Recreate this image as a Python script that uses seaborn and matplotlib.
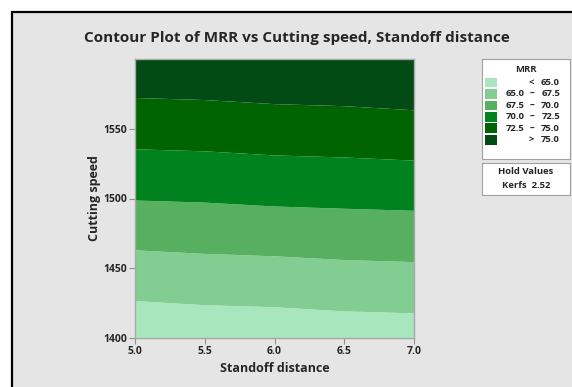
import numpy as np
import pandas as pd
import seaborn as sns
import matplotlib
matplotlib.use("Agg")
import matplotlib.pyplot as plt
from matplotlib.patches import Rectangle

# ---- data ----
standoff = [5.0, 5.5, 6.0, 6.5, 7.0]
speed = [1400, 1450, 1500, 1550, 1600]
mrr_1400 = [63.2, 63.4, 63.5, 63.7, 63.8]
mrr_1450 = [66.6, 66.8, 66.9, 67.1, 67.2]
mrr_1500 = [70.1, 70.2, 70.4, 70.5, 70.6]
mrr_1550 = [73.5, 73.6, 73.8, 73.9, 74.1]
mrr_1600 = [76.9, 77.0, 77.2, 77.3, 77.5]
levels = [55.0, 65.0, 67.5, 70.0, 72.5, 75.0, 85.0]
legend_low = ["<", "65.0", "67.5", "70.0", "72.5", ">"]
legend_high = ["65.0", "67.5", "70.0", "72.5", "75.0", "75.0"]
band_colors = ["#a8e6bd", "#82cd91", "#56b05f", "#00821f", "#006400", "#034b14"]
x_ticks = [5.0, 5.5, 6.0, 6.5, 7.0]
y_ticks = [1400, 1450, 1500, 1550]
hold_name = "Kerfs"
hold_value = "2.52"

rows = []
for sp, vals in zip(speed, [mrr_1400, mrr_1450, mrr_1500, mrr_1550, mrr_1600]):
    for sd, v in zip(standoff, vals):
        rows.append({"speed": sp, "standoff": sd, "MRR": v})
df = pd.DataFrame(rows)
grid = df.pivot(index="speed", columns="standoff", values="MRR")

sns.set_style("white")
plt.rcParams["font.family"] = ["Open Sans", "DejaVu Sans"]

W, H = 572, 387
fig = plt.figure(figsize=(W / 100, H / 100), dpi=100, facecolor="white")

# outer frame (left/top black border, grey panel)
frame = Rectangle((12 / W, -0.2), 1.2, (H - 12) / H + 0.2,
                  transform=fig.transFigure, facecolor="#e5e5e5",
                  edgecolor="black", linewidth=1.6, zorder=-10)
fig.patches.append(frame)

ax = fig.add_axes([135 / W, 1 - 338 / H, (414 - 135) / W, (338 - 59) / H])
ax.contourf(grid.columns.values, grid.index.values, grid.values,
            levels=levels, colors=band_colors, antialiased=True)
ax.set_xlim(5.0, 7.0)
ax.set_ylim(1400, 1600)
ax.set_xticks(x_ticks)
ax.set_xticklabels([f"{t:.1f}" for t in x_ticks])
ax.set_yticks(y_ticks)
ax.set_yticklabels([str(t) for t in y_ticks])
ax.tick_params(axis="both", which="both", direction="out", length=4, width=0.8,
               color="#909090", labelsize=7.5, pad=1.5, bottom=True, left=True)
for lab in ax.get_xticklabels() + ax.get_yticklabels():
    lab.set_fontweight("bold")
for s in ax.spines.values():
    s.set_color("#a8a8a8")
    s.set_linewidth(1.0)

ax.set_xlabel("Standoff distance", fontsize=9, fontweight="bold", labelpad=4)
ax.set_ylabel("Cutting speed", fontsize=9, fontweight="bold", labelpad=2)

fig.text(297 / W, 1 - 38 / H, "Contour Plot of MRR vs Cutting speed, Standoff distance",
         ha="center", va="center", fontsize=11, fontweight="bold")

# legend box
FS = 6.8
lg = fig.add_axes([482 / W, 1 - 159 / H, 88 / W, 100 / H])
lg.set_xlim(0, 88)
lg.set_ylim(100, 0)
lg.set_xticks([])
lg.set_yticks([])
lg.set_facecolor("white")
for s in lg.spines.values():
    s.set_color("#a0a0a0")
    s.set_linewidth(0.8)
lg.text(44, 10, "MRR", ha="center", va="center", fontsize=FS, fontweight="bold")
for i, (lo, hi, c) in enumerate(zip(legend_low, legend_high, band_colors)):
    yc = 23.4 + i * 11.46
    lg.add_patch(Rectangle((3, yc - 4.8), 12, 9.6, facecolor=c, edgecolor="none"))
    if lo in ("<", ">"):
        lg.text(49, yc, lo, ha="center", va="center", fontsize=FS, fontweight="bold")
    else:
        lg.text(43, yc, lo, ha="right", va="center", fontsize=FS, fontweight="bold")
        lg.text(50, yc, "\u2013", ha="center", va="center", fontsize=FS, fontweight="bold")
    lg.text(78, yc, hi, ha="right", va="center", fontsize=FS, fontweight="bold")

hb = fig.add_axes([482 / W, 1 - 195 / H, 88 / W, 32.5 / H])
hb.set_xlim(0, 88)
hb.set_ylim(32.5, 0)
hb.set_xticks([])
hb.set_yticks([])
hb.set_facecolor("white")
for s in hb.spines.values():
    s.set_color("#a0a0a0")
    s.set_linewidth(0.8)
hb.text(44, 9, "Hold Values", ha="center", va="center", fontsize=FS, fontweight="bold")
hb.text(44, 22.5, f"{hold_name}  {hold_value}", ha="center", va="center",
        fontsize=FS, fontweight="bold")

fig.savefig("out.png", dpi=100, facecolor="white")
